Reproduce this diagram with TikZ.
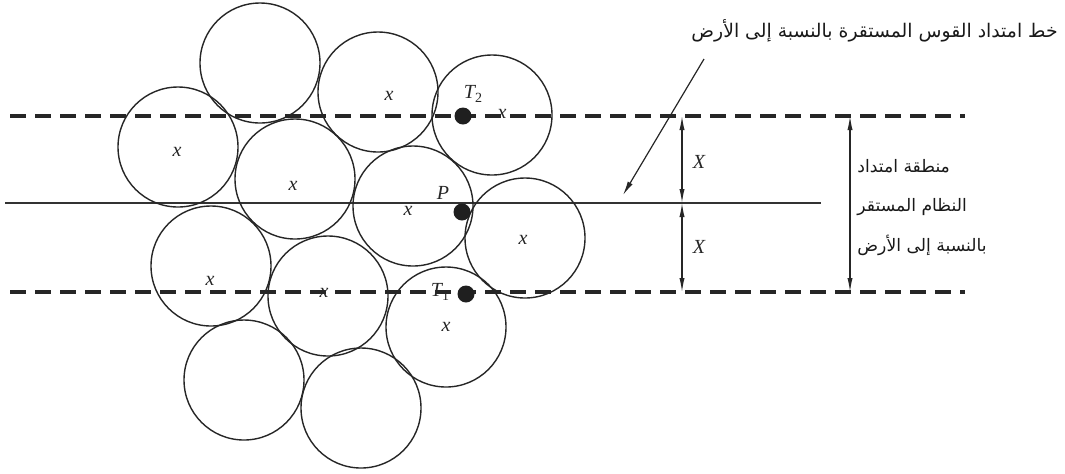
\documentclass[tikz,border=0pt]{standalone}
\usepackage{fontspec}
\setmainfont{Liberation Serif}
\newfontfamily\arabicfont[Script=Arabic]{DejaVu Sans}
\TeXXeTstate=1
\usetikzlibrary{arrows.meta}
\newcommand{\subtwo}[1]{\raisebox{-0.45ex}{\fontsize{7}{8}\selectfont\upshape #1}}
\begin{document}
\begin{tikzpicture}[x=0.5pt,y=-0.5pt,
  ball/.style={circle,draw=black!85,line width=0.7pt,minimum size=60pt,inner sep=0pt},
  lbl/.style={font=\itshape\fontsize{10}{12}\selectfont,inner sep=0pt,text=black!85},
  blackdot/.style={circle,fill=black!88,minimum size=8.5pt,inner sep=0pt},
  dashline/.style={line width=2pt,dash pattern=on 8pt off 4.5pt,draw=black!85},
  thinline/.style={line width=0.7pt,draw=black!80},
  dimarrow/.style={line width=0.6pt,draw=black!85,{Latex[length=7pt,width=2.6pt]}-{Latex[length=7pt,width=2.6pt]}},
  pointer/.style={line width=0.6pt,draw=black!85,-{Latex[length=7pt,width=2.8pt]}},
  ar/.style={font=\arabicfont\fontsize{8.6}{10}\selectfont,inner sep=0pt,text=black!90},
  artop/.style={font=\arabicfont\fontsize{9.4}{11}\selectfont,inner sep=0pt,text=black!90}]
\useasboundingbox (0,0) rectangle (1065,473);

% reference lines
\coordinate (dtL) at (10,116);
\coordinate (dtR) at (965,116);
\coordinate (dbL) at (10,292);
\coordinate (dbR) at (965,292);
\coordinate (sL) at (5,203);
\coordinate (sR) at (821,203);
\draw[dashline] (dtL) -- (dtR);
\draw[dashline] (dbL) -- (dbR);
\draw[thinline] (sL) -- (sR);

% circles
\node[ball] (c1) at (260,63) {};
\node[ball] (c2) at (378,92) {};
\node[ball] (c3) at (492,115) {};
\node[ball] (c4) at (178,147) {};
\node[ball] (c5) at (295,179) {};
\node[ball] (c6) at (413,206) {};
\node[ball] (c7) at (525,238) {};
\node[ball] (c8) at (211,266) {};
\node[ball] (c9) at (328,296) {};
\node[ball] (c10) at (446,327) {};
\node[ball] (c11) at (244,380) {};
\node[ball] (c12) at (361,408) {};

% x labels
\node[lbl] (x2) at (389,96) {x};
\node[lbl] (x3) at (502,114) {x};
\node[lbl] (x4) at (177,152) {x};
\node[lbl] (x5) at (293,186) {x};
\node[lbl] (x6) at (408,211) {x};
\node[lbl] (x7) at (523,240) {x};
\node[lbl] (x8) at (210,281) {x};
\node[lbl] (x9) at (324,293) {x};
\node[lbl] (x10) at (446,327) {x};

% points
\node[blackdot] (T2) at (463,116) {};
\node[blackdot] (P) at (462,212) {};
\node[blackdot] (T1) at (466,294) {};
\node[lbl] (T2l) at (473,94) {T\subtwo{2}};
\node[lbl] (Pl) at (443,193) {P};
\node[lbl] (T1l) at (440,292) {T\subtwo{1}};

% dimension arrows
\coordinate (a1) at (682,116);
\coordinate (a2) at (682,203);
\coordinate (a3) at (682,292);
\draw[dimarrow] (a1) -- (a2);
\draw[dimarrow] (a2) -- (a3);
\node[lbl] (X1) at (699,162) {X};
\node[lbl] (X2) at (699,247) {X};
\coordinate (b1) at (850,116);
\coordinate (b2) at (850,292);
\draw[dimarrow] (b1) -- (b2);

% arc line pointer
\coordinate (p1) at (704,59);
\coordinate (p2) at (623,195);
\draw[pointer] (p1) -- (p2);

% Arabic texts
\node[artop,anchor=base east] (t1) at (1058,37) {\beginR خط امتداد القوس المستقرة بالنسبة إلى الأرض\endR};
\node[ar,anchor=base west] (t2) at (857,172) {\beginR منطقة امتداد\endR};
\node[ar,anchor=base west] (t3) at (857,211) {\beginR النظام المستقر\endR};
\node[ar,anchor=base west] (t4) at (857,251) {\beginR بالنسبة إلى الأرض\endR};
\end{tikzpicture}
\end{document}
